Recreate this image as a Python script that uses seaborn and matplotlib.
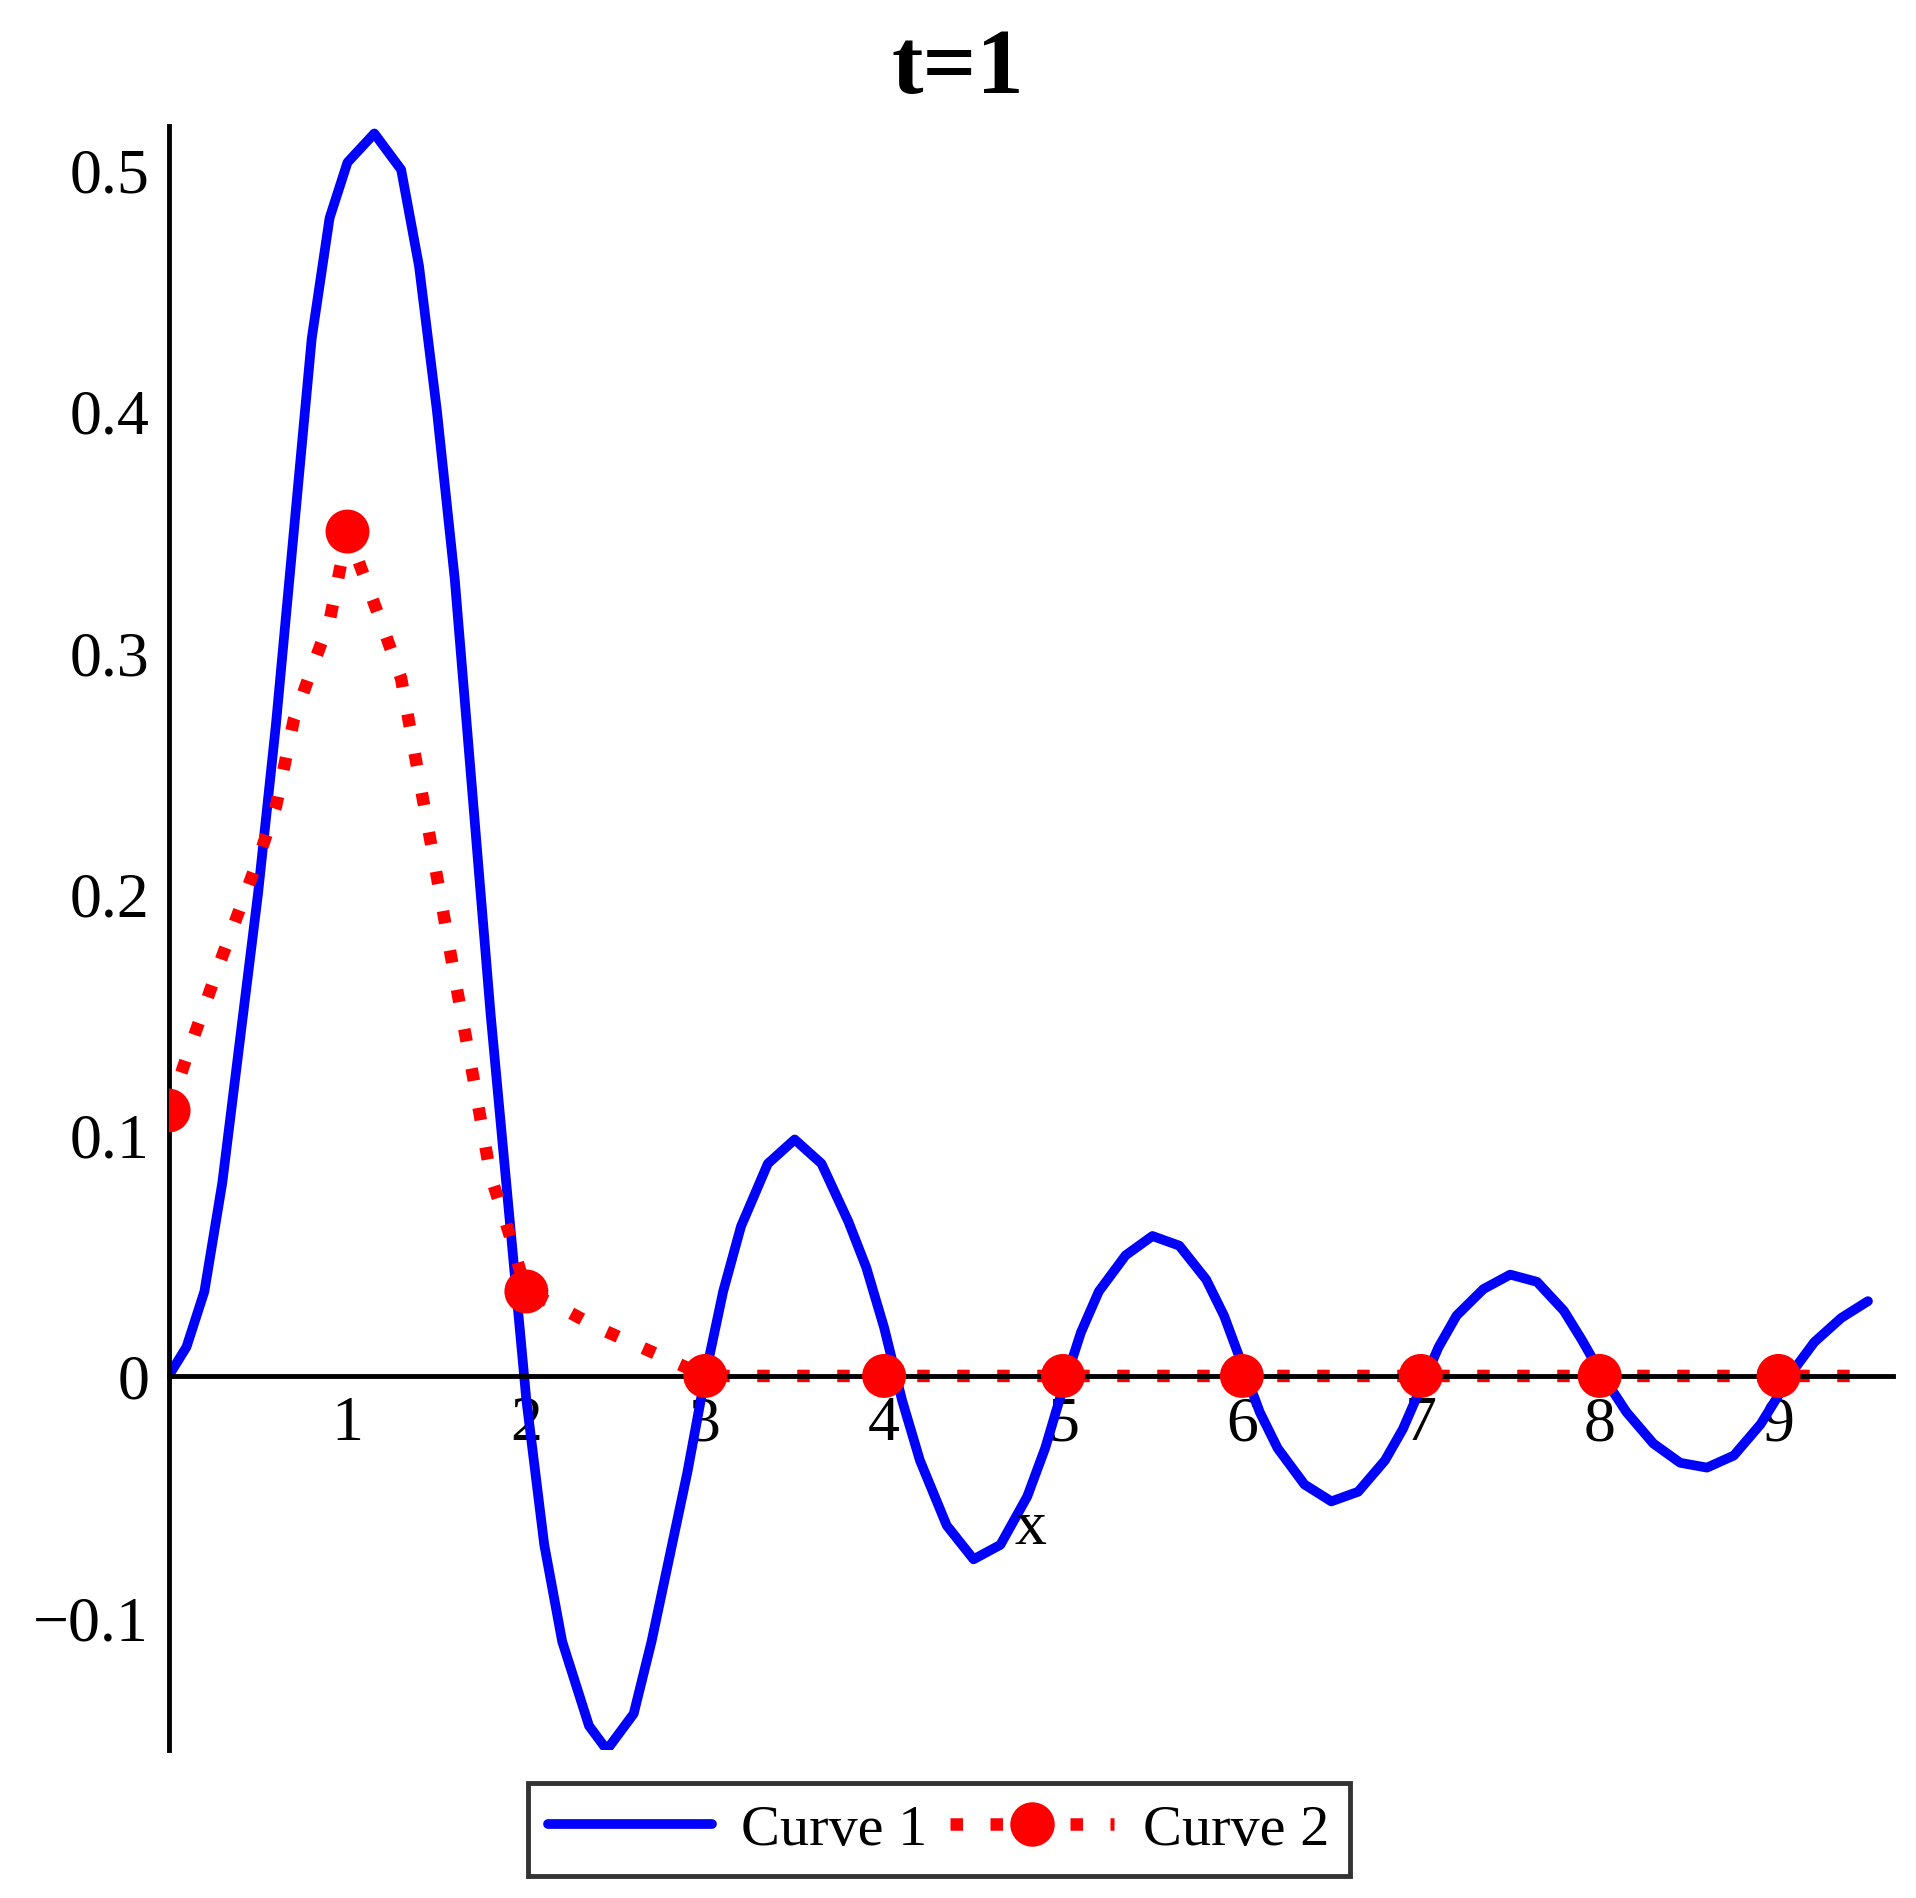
import numpy as np
import pandas as pd
import matplotlib
matplotlib.use("Agg")
import matplotlib.pyplot as plt
import seaborn as sns
from matplotlib.lines import Line2D

# Curve 1 (solid blue)
c1_x = [0.0, 0.1, 0.2, 0.3, 0.4, 0.5, 0.6, 0.7, 0.8, 0.9, 1.0, 1.15, 1.3, 1.4, 1.5, 1.6, 1.7, 1.8, 1.9,
        2.0, 2.1, 2.2, 2.35, 2.45, 2.6, 2.7, 2.8, 2.9, 3.0, 3.1, 3.2, 3.35, 3.5, 3.65, 3.8, 3.9, 4.0,
        4.1, 4.2, 4.35, 4.5, 4.65, 4.8, 4.9, 5.0, 5.1, 5.2, 5.35, 5.5, 5.65, 5.8, 5.9, 6.0, 6.1, 6.2,
        6.35, 6.5, 6.65, 6.8, 6.9, 7.0, 7.1, 7.2, 7.35, 7.5, 7.65, 7.8, 7.9, 8.0, 8.15, 8.3, 8.45,
        8.6, 8.75, 8.9, 9.0, 9.1, 9.2, 9.35, 9.5]
c1_y = [0.0, 0.012, 0.035, 0.08, 0.14, 0.2, 0.27, 0.35, 0.43, 0.48, 0.503, 0.515, 0.5, 0.46, 0.4,
        0.33, 0.24, 0.15, 0.07, -0.01, -0.07, -0.11, -0.145, -0.155, -0.14, -0.11, -0.075, -0.04,
        0.0, 0.035, 0.062, 0.088, 0.098, 0.088, 0.064, 0.045, 0.02, -0.01, -0.035, -0.062, -0.076,
        -0.07, -0.05, -0.03, -0.005, 0.018, 0.035, 0.05, 0.058, 0.054, 0.04, 0.025, 0.005, -0.015,
        -0.03, -0.045, -0.052, -0.048, -0.035, -0.022, -0.005, 0.012, 0.025, 0.036, 0.042, 0.039,
        0.027, 0.015, 0.002, -0.015, -0.028, -0.036, -0.038, -0.033, -0.02, -0.008, 0.004, 0.014,
        0.024, 0.031]

# Curve 2 (dotted red)
c2_x = [0.0, 0.1, 0.2, 0.3, 0.4, 0.5, 0.6, 0.7, 0.8, 0.9, 1.0, 1.1, 1.2, 1.3, 1.4, 1.5, 1.6, 1.7,
        1.8, 1.9, 2.0, 2.2, 2.4, 2.7, 3.0, 3.5, 4.0, 4.5, 5.0, 5.5, 6.0, 6.5, 7.0, 7.5, 8.0, 8.5,
        9.0, 9.5]
c2_y = [0.11, 0.132, 0.153, 0.174, 0.194, 0.214, 0.236, 0.272, 0.293, 0.313, 0.35, 0.33, 0.31,
        0.289, 0.248, 0.207, 0.165, 0.125, 0.083, 0.06, 0.035, 0.028, 0.02, 0.01, 0.0, 0.0, 0.0,
        0.0, 0.0, 0.0, 0.0, 0.0, 0.0, 0.0, 0.0, 0.0, 0.0, 0.0]
c2_mark_x = [0, 1, 2, 3, 4, 5, 6, 7, 8, 9]
c2_mark_y = [0.11, 0.35, 0.035, 0, 0, 0, 0, 0, 0, 0]

x_ticks = [1, 2, 3, 4, 5, 6, 7, 8, 9]
y_ticks = [-0.1, 0, 0.1, 0.2, 0.3, 0.4, 0.5]
y_labels = ["\u22120.1", "0", "0.1", "0.2", "0.3", "0.4", "0.5"]

sns.set_style("white")
plt.rcParams['font.family'] = ['Liberation Serif', 'DejaVu Serif']
plt.rcParams['text.color'] = 'black'
plt.rcParams['xtick.color'] = 'black'
plt.rcParams['ytick.color'] = 'black'

fig = plt.figure(figsize=(19.16, 18.99), dpi=100)
ax = fig.add_axes([0.088, 0.078, 0.9, 0.855])

df1 = pd.DataFrame({"x": c1_x, "y": c1_y})
df2 = pd.DataFrame({"x": c2_x, "y": c2_y})
sns.lineplot(data=df1, x="x", y="y", ax=ax, color="#0000ff", linewidth=7, sort=False)
sns.lineplot(data=df2, x="x", y="y", ax=ax, color="#ff0000", linewidth=9,
             linestyle=(0, (1, 2.2)), sort=False)
sns.scatterplot(x=c2_mark_x, y=c2_mark_y, ax=ax, color="#ff0000", s=1000, edgecolor="none",
                zorder=5)

ax.set_xlim(0, 9.64)
ax.set_ylim(-0.155, 0.518)
for s in ["top", "right"]:
    ax.spines[s].set_visible(False)
ax.spines["bottom"].set_position(("data", 0))
ax.spines["left"].set_position(("data", 0))
ax.spines["bottom"].set_linewidth(3.5)
ax.spines["left"].set_linewidth(3.5)
ax.spines["bottom"].set_color("black")
ax.spines["left"].set_color("black")
ax.set_xticks(x_ticks)
ax.set_yticks(y_ticks)
ax.set_yticklabels(y_labels)
ax.tick_params(labelsize=46, length=0, pad=14)
ax.set_xlabel("")
ax.set_ylabel("")
ax.text(4.82, -0.063, "x", fontsize=46, ha="center", va="center")
fig.suptitle("t=1", fontsize=68, fontweight="bold", y=0.985)

handles = [Line2D([], [], color="#0000ff", lw=7),
           Line2D([], [], color="#ff0000", lw=9, linestyle=(0, (1, 2.2)), marker="o",
                  markersize=32, markeredgecolor="none")]
leg = fig.legend(handles, ["Curve 1", "Curve 2"], loc="center", bbox_to_anchor=(0.49, 0.036),
                 ncol=2, fontsize=42, frameon=True, fancybox=False, edgecolor="black",
                 handlelength=2.8, columnspacing=0.4, handletextpad=0.5, borderpad=0.35)
leg.get_frame().set_linewidth(3.5)

fig.savefig("out.png", dpi=100)
